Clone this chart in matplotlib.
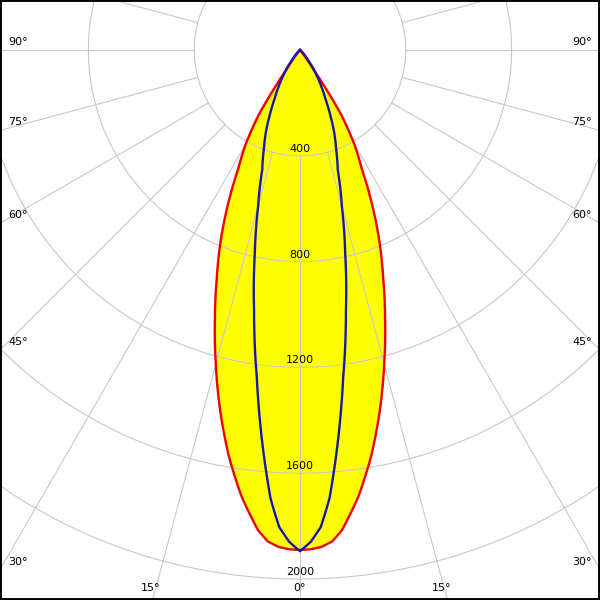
import numpy as np
import matplotlib
matplotlib.use('Agg')
import matplotlib.pyplot as plt
from matplotlib.patches import Rectangle

# luminous intensity (cd) vs gamma angle
gamma = [0, 1.25, 2.5, 3.75, 5, 7.5, 10, 12.5, 15, 17.5, 20, 22.5, 25, 27.5, 30,
         32.5, 35, 37.5, 40, 45, 50, 60, 70, 80, 90]
c0_180 = [1890, 1888, 1880, 1862, 1822, 1700, 1555, 1395, 1230, 1070, 920, 785, 645, 505, 410,
          290, 80, 20, 0, 0, 0, 0, 0, 0, 0]
c90_270 = [1895, 1860, 1805, 1700, 1550, 1250, 1000, 790, 612, 475, 400, 338, 270, 208, 165,
           125, 92, 62, 40, 15, 3, 0, 0, 0, 0]

ring_values = [400, 800, 1200, 1600, 2000, 2400]
ring_labels = ['400', '800', '1200', '1600', '2000']
angle_labels = [90, 75, 60, 45, 30, 15, 0]

W = H = 600
cx, cy = 300, 50          # pole position in pixels (from top-left)
rmax = 2400
px_per_cd = 0.2645
R = rmax * px_per_cd
STEPS = 30

fig = plt.figure(figsize=(6, 6), dpi=100)
fig.patch.set_facecolor('white')
ax = fig.add_axes([(cx - R) / W, (H - cy - R) / H, 2 * R / W, 2 * R / H],
                  projection='polar')
ax.set_theta_zero_location('S')
ax.set_ylim(0, rmax)
ax.grid(False)
ax.set_xticks([])
ax.set_yticks([])
ax.spines['polar'].set_visible(False)
ax.set_facecolor('white')

g = np.radians(gamma)
th = np.concatenate([-g[::-1], g[1:]])
red = np.concatenate([c0_180[::-1], c0_180[1:]])
blue = np.concatenate([c90_270[::-1], c90_270[1:]])

# let the polar transform draw segments in (theta, r) like the gridlines do
fill = ax.fill(th, red, color='#ffff00', zorder=1, lw=0)[0]
fill.get_path()._interpolation_steps = STEPS

gc = '#c8c8c8'
full = np.linspace(0, 2 * np.pi, 721)
for rv in ring_values:
    ax.plot(full, np.full_like(full, rv), color=gc, lw=0.8, zorder=2)
for a in range(0, 360, 15):
    t = np.radians(a)
    ax.plot([t, t], [400, rmax], color=gc, lw=0.8, zorder=2)

l1, = ax.plot(th, red, color='#ee0000', lw=1.7, zorder=3)
l2, = ax.plot(th, blue, color='#1818a8', lw=1.7, zorder=4)
for ln in (l1, l2):
    ln.get_path()._interpolation_steps = STEPS

for rv, lab in zip(ring_values, ring_labels):
    ax.annotate(lab, (0, rv), xytext=(0, 1.5), textcoords='offset points',
                ha='center', va='bottom', fontsize=8, color='black', zorder=5)

# angle labels where the spokes leave the picture
for a in angle_labels:
    if a == 0:
        fig.text(cx / W, 1 - 588 / H, '0°', ha='center', va='center', fontsize=8)
        continue
    ar = np.radians(a)
    yh = cy + (cx / np.tan(ar) if a != 90 else 0)
    if yh <= H:
        fig.text(8 / W, 1 - (yh - 8) / H, f'{a}°', ha='left', va='center', fontsize=8)
        fig.text((W - 8) / W, 1 - (yh - 8) / H, f'{a}°', ha='right', va='center', fontsize=8)
    else:
        xh = (H - cy) * np.tan(ar)
        fig.text((cx - xh - 2) / W, 1 - 588 / H, f'{a}°', ha='center', va='center', fontsize=8)
        fig.text((cx + xh - 6) / W, 1 - 588 / H, f'{a}°', ha='center', va='center', fontsize=8)

fig.patches.append(Rectangle((0, 0), 1, 1, transform=fig.transFigure, fill=False,
                             ec='black', lw=2.8, zorder=10))

fig.savefig('out.png', dpi=100)
